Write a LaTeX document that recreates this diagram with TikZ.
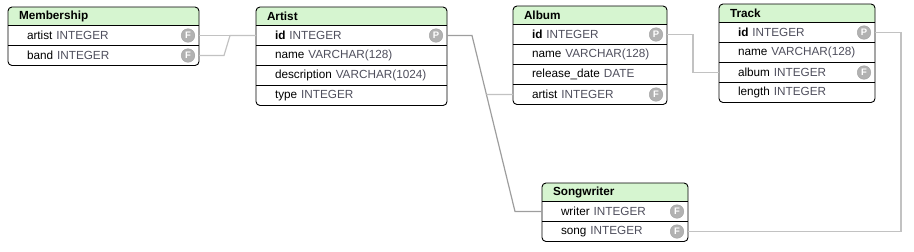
\documentclass[tikz,border=0pt]{standalone}
\usepackage{fontspec}
\setmainfont{Liberation Sans}
\usetikzlibrary{positioning, calc, backgrounds}

\definecolor{hdrgreen}{HTML}{D6F5D0}
\definecolor{typegray}{HTML}{4E4E5C}
\definecolor{linklight}{HTML}{C2C2C2}
\definecolor{linkdark}{HTML}{9E9E9E}
\definecolor{keygray}{HTML}{B2B2B2}

\tikzset{
  tblhead/.style={anchor=north west, minimum height=18.5bp, inner xsep=11bp, inner ysep=0pt, outer sep=0pt, align=left, font=\bfseries\fontsize{11.8}{13}\selectfont},
  tblrow/.style={anchor=north west, minimum height=20bp, inner xsep=2bp, inner ysep=0pt, outer sep=0pt, align=left, font=\fontsize{11.8}{13}\selectfont},
  tblframe/.style={draw=black, line width=0.9bp, rounded corners=4bp},
  tblrule/.style={draw=black, line width=0.9bp},
  keyicon/.style={circle, fill=keygray, draw=black!35, line width=0.5bp, text=white, inner sep=0pt, minimum size=13.5bp, font=\bfseries\fontsize{9.5}{10}\selectfont},
  linklt/.style={draw=linklight, line width=1.2bp},
  linkdk/.style={draw=linkdark, line width=1.2bp}
}
\newcommand{\fieldtext}[2]{\hspace*{17bp}#1\ \textcolor{typegray}{#2}}

\begin{document}
\begin{tikzpicture}[x=1bp, y=-1bp]
    \useasboundingbox (0,0) rectangle (914,251);

    % tables: header and rows
    \node[tblhead, text width=169bp] (memHead) at (8,7) {Membership};
    \foreach \n/\f/\t [count=\i] in {memArtist/artist/INTEGER, memBand/band/INTEGER}
        \node[tblrow, text width=187bp] (\n) at (8,{7+18.5+20*(\i-1)}) {\fieldtext{\f}{\t}};

    \node[tblhead, text width=169bp] (artHead) at (256,7) {Artist};
    \foreach \n/\f/\t [count=\i] in {artId/\textbf{id}/INTEGER, artName/name/VARCHAR(128), artDesc/description/VARCHAR(1024), artType/type/INTEGER}
        \node[tblrow, text width=187bp] (\n) at (256,{7+18.5+20*(\i-1)}) {\fieldtext{\f}{\t}};

    \node[tblhead, text width=132bp] (albHead) at (513,6) {Album};
    \foreach \n/\f/\t [count=\i] in {albId/\textbf{id}/INTEGER, albName/name/VARCHAR(128), albDate/release\_date/DATE, albArtist/artist/INTEGER}
        \node[tblrow, text width=150bp] (\n) at (513,{6+18.5+20*(\i-1)}) {\fieldtext{\f}{\t}};

    \node[tblhead, text width=134bp] (trkHead) at (719,4) {Track};
    \foreach \n/\f/\t [count=\i] in {trkId/\textbf{id}/INTEGER, trkName/name/VARCHAR(128), trkAlbum/album/INTEGER, trkLength/length/INTEGER}
        \node[tblrow, text width=152bp] (\n) at (719,{4+18.5+20*(\i-1)}) {\fieldtext{\f}{\t}};

    \node[tblhead, text width=124bp] (swHead) at (542,183) {Songwriter};
    \foreach \n/\f/\t [count=\i] in {swWriter/writer/INTEGER, swSong/song/INTEGER}
        \node[tblrow, text width=142bp] (\n) at (542,{183+18.5+20*(\i-1)}) {\fieldtext{\f}{\t}};

    % header fill and frame
    \foreach \h/\l in {memHead/memBand, artHead/artType, albHead/albArtist, trkHead/trkLength, swHead/swSong} {
        \begin{scope}[on background layer]
            \fill[hdrgreen] (\h.south west) [rounded corners=4bp] -- (\h.north west) -- (\h.north east) [sharp corners] -- (\h.south east) -- cycle;
        \end{scope}
        \draw[tblframe] (\h.north west) rectangle (\l.south east);
    }
    \foreach \n in {memArtist, memBand, artId, artName, artDesc, artType, albId, albName, albDate, albArtist, trkId, trkName, trkAlbum, trkLength, swWriter, swSong}
        \draw[tblrule] (\n.north west) -- (\n.north east);

    % key icons
    \foreach \n/\k in {memArtist/F, memBand/F, artId/P, albId/P, albArtist/F, trkId/P, trkAlbum/F, swWriter/F, swSong/F}
        \node[keyicon] (\n-key) at ([xshift=-11bp]\n.east) {\k};

    % links
    \draw[linklt] (memArtist.east) -- (artId.west);
    \draw[linklt] (memBand.east) -- ++(25,0) -- ([xshift=-26bp]artId.west) -- (artId.west);
    \draw[linkdk] (artId.east) -- ++(25,0) coordinate (bendA) -- ([xshift=-27bp]swWriter.west) coordinate (bendB) -- (swWriter.west);
    \draw[linklt] (intersection of bendA--bendB and albArtist.west--albArtist.east) -- (albArtist.west);
    \draw[linklt] (albId.east) -- ++(26,0) |- (trkAlbum.west);
    \draw[linklt] (trkId.east) -- ++(26,0) |- (swSong.east);
\end{tikzpicture}
\end{document}
